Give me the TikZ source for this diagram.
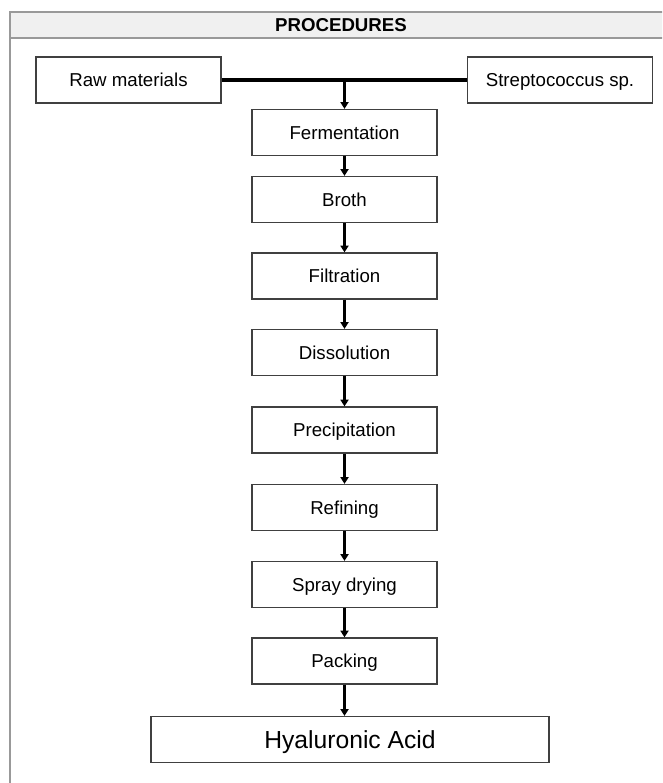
\documentclass[tikz,border=0pt]{standalone}
\usepackage{fontspec}
\setmainfont{Liberation Sans}
\usetikzlibrary{arrows.meta}
\tikzset{
  stepbox/.style={draw=black!75, line width=1pt, minimum width=138.75pt, minimum height=34.5pt, inner sep=0pt,
    text height=10pt, text depth=0pt, font=\fontsize{14}{16}\selectfont},
  flow/.style={line width=2.6pt, -{Triangle[length=5pt,width=6pt]}},
}
\begin{document}
\begin{tikzpicture}[x=0.75pt,y=-0.75pt]
  \useasboundingbox (0,0) rectangle (662,783);
  % Rahmen
  \begin{scope}
    \clip (0,0) rectangle (662,783);
    \draw[black!40, fill=black!6, line width=1.3pt] (10,12) rectangle (690,38);
    \draw[black!40, line width=1.3pt] (10,38) -- (10,800);
  \end{scope}
  \node[font=\bfseries\fontsize{14}{16}\selectfont] (title) at (341,25) {PROCEDURES};

  % Ausgangsstoffe
  \node[stepbox] (raw) at (128.5,80) {Raw materials};
  \node[stepbox] (strep) at (560,80) {Streptococcus sp.};
  \draw[line width=2.6pt] (raw.east) -- (strep.west);
  \coordinate (join) at (344.5,80);

  % Schritte
  \foreach \y/\name/\txt in {132.5/ferm/Fermentation, 199.5/broth/Broth, 276/filt/Filtration,
      352.5/diss/Dissolution, 430/prec/Precipitation, 507.5/refi/Refining,
      584.5/spray/Spray drying, 661/pack/Packing} {
    \node[stepbox] (\name) at (344.5,\y) {\txt};
  }
  \node[stepbox, minimum width=298.5pt, text height=13.2pt, font=\fontsize{18.5}{21}\selectfont] (ha) at (350,739.5) {Hyaluronic Acid};

  % Pfeile
  \draw[flow] (join) -- (ferm.north);
  \draw[flow] (ferm) -- (broth);
  \draw[flow] (broth) -- (filt);
  \draw[flow] (filt) -- (diss);
  \draw[flow] (diss) -- (prec);
  \draw[flow] (prec) -- (refi);
  \draw[flow] (refi) -- (spray);
  \draw[flow] (spray) -- (pack);
  \draw[flow] (pack.south) -- (pack.south |- ha.north);
\end{tikzpicture}
\end{document}
